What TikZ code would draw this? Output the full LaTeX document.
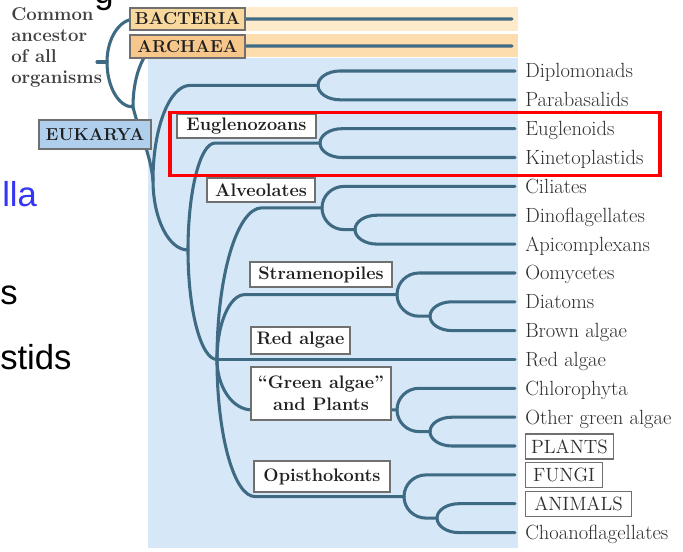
\documentclass[tikz,border=0pt]{standalone}
\usepackage{fontspec}
\newfontfamily\slidefont{Liberation Sans}
\usetikzlibrary{calc}
\definecolor{treeline}{HTML}{3E6B83}
\definecolor{panel}{HTML}{D6E8F7}
\definecolor{bandA}{HTML}{FEEBCB}
\definecolor{bandB}{HTML}{FDDCAE}
\definecolor{bactbox}{HTML}{F9D89E}
\definecolor{archbox}{HTML}{F6C68A}
\definecolor{eukbox}{HTML}{B0CFEC}
\definecolor{boxborder}{HTML}{707070}
\definecolor{labgray}{HTML}{2E2E2E}
\definecolor{slideblue}{HTML}{3535F5}
\tikzset{
  branch/.style={to path={.. controls ($(\tikztostart)!0.552!(\tikztostart|-\tikztotarget)$) and ($(\tikztotarget)!0.552!(\tikztostart|-\tikztotarget)$) .. (\tikztotarget) \tikztonodes}},
  tline/.style={draw=treeline, line width=2.3pt, line cap=round},
  leaf/.style={inner sep=0pt, anchor=base west, text=labgray, font=\fontsize{15.4}{18}\selectfont},
  leafbox/.style={draw=boxborder, line width=0.8pt, fill=white, inner sep=0pt, anchor=west, minimum height=18.75pt, text=labgray, font=\fontsize{14.4}{16}\selectfont},
  cladebox/.style={draw=boxborder, line width=0.8pt, fill=white, inner sep=0pt, text=black!88, font=\fontsize{13.6}{16.5}\selectfont\bfseries},
  domainbox/.style={draw=boxborder, line width=0.8pt, inner sep=0pt, text=black!88, font=\fontsize{13}{14}\selectfont\bfseries},
  slidetxt/.style={inner sep=0pt, anchor=base west, font=\slidefont\fontsize{26}{30}\selectfont}
}
\begin{document}
\begin{tikzpicture}[x=0.75pt,y=-0.75pt]
\useasboundingbox (0,0) rectangle (683,552);
\fill[white] (0,0) rectangle (683,552);
% background panels
\fill[panel] (148,58) rectangle (518,548);
\fill[bandA] (245,7) rectangle (518,31);
\fill[bandB] (245,34) rectangle (518,57);

% coordinates
\coordinate (tick) at (97,62);
\coordinate (root) at (107,62);
\coordinate (bactS) at (135,19);
\coordinate (bactE) at (512,19);
\coordinate (AE) at (133,107);
\coordinate (archS) at (160,46);
\coordinate (archE) at (512,46);
\coordinate (E) at (153,180);
\coordinate (B) at (188,250);
\coordinate (C) at (217,359.5);
\coordinate (dipS) at (190,85.4);
\coordinate (DP) at (318,85.4);
\coordinate (eugS) at (215,143.1);
\coordinate (EG) at (320,143.1);
\coordinate (alvS) at (262,207.8);
\coordinate (AL) at (322,207.8);
\coordinate (DAs) at (344,229.6);
\coordinate (DA) at (355,229.6);
\coordinate (strS) at (245,294.6);
\coordinate (ST) at (397,294.6);
\coordinate (DBs) at (419,316.2);
\coordinate (DB) at (430,316.2);
\coordinate (grS) at (252,409.9);
\coordinate (GR) at (397,409.9);
\coordinate (OGs) at (419,431.6);
\coordinate (OG) at (430,431.6);
\coordinate (opS) at (255,496.6);
\coordinate (OP) at (404,496.6);
\coordinate (ACs) at (426,518.1);
\coordinate (AC) at (437,518.1);
% leaf starts and ends
\coordinate (s0) at (340,71);     \coordinate (e0) at (515,71);
\coordinate (s1) at (340,99.8);   \coordinate (e1) at (515,99.8);
\coordinate (s2) at (342,128.7);  \coordinate (e2) at (515,128.7);
\coordinate (s3) at (342,157.5);  \coordinate (e3) at (515,157.5);
\coordinate (s4) at (344,186.4);  \coordinate (e4) at (515,186.4);
\coordinate (s5) at (377,215.2);  \coordinate (e5) at (515,215.2);
\coordinate (s6) at (377,244.1);  \coordinate (e6) at (515,244.1);
\coordinate (s7) at (419,273);    \coordinate (e7) at (515,273);
\coordinate (s8) at (452,301.8);  \coordinate (e8) at (515,301.8);
\coordinate (s9) at (452,330.6);  \coordinate (e9) at (515,330.6);
\coordinate (e10) at (515,359.5);
\coordinate (s11) at (419,388.3); \coordinate (e11) at (515,388.3);
\coordinate (s12) at (452,417.2); \coordinate (e12) at (515,417.2);
\coordinate (s13) at (452,446);   \coordinate (e13) at (515,446);
\coordinate (s14) at (426,474.9); \coordinate (e14) at (515,474.9);
\coordinate (s15) at (459,503.7); \coordinate (e15) at (515,503.7);
\coordinate (s16) at (459,532.6); \coordinate (e16) at (515,532.6);

% tree lines
\draw[tline] (tick) -- (root);
\draw[tline] (root) to[branch] (bactS) -- (bactE);
\draw[tline] (root) to[branch] (AE);
\draw[tline] (AE) to[branch] (archS) -- (archE);
\draw[tline] (AE) .. controls (139,132) and (150,152) .. (E);
\draw[tline] (E) to[branch] (dipS) -- (DP);
\draw[tline] (E) to[branch] (B);
\draw[tline] (B) to[branch] (eugS) -- (EG);
\draw[tline] (B) to[branch] (C);
\draw[tline] (DP) to[branch] (s0) -- (e0);
\draw[tline] (DP) to[branch] (s1) -- (e1);
\draw[tline] (EG) to[branch] (s2) -- (e2);
\draw[tline] (EG) to[branch] (s3) -- (e3);
\draw[tline] (C) to[branch] (alvS) -- (AL);
\draw[tline] (AL) to[branch] (s4) -- (e4);
\draw[tline] (AL) to[branch] (DAs) -- (DA);
\draw[tline] (DA) to[branch] (s5) -- (e5);
\draw[tline] (DA) to[branch] (s6) -- (e6);
\draw[tline] (C) to[branch] (strS) -- (ST);
\draw[tline] (ST) to[branch] (s7) -- (e7);
\draw[tline] (ST) to[branch] (DBs) -- (DB);
\draw[tline] (DB) to[branch] (s8) -- (e8);
\draw[tline] (DB) to[branch] (s9) -- (e9);
\draw[tline] (C) -- (e10);
\draw[tline] (C) to[branch] (grS) -- (GR);
\draw[tline] (GR) to[branch] (s11) -- (e11);
\draw[tline] (GR) to[branch] (OGs) -- (OG);
\draw[tline] (OG) to[branch] (s12) -- (e12);
\draw[tline] (OG) to[branch] (s13) -- (e13);
\draw[tline] (C) to[branch] (opS) -- (OP);
\draw[tline] (OP) to[branch] (s14) -- (e14);
\draw[tline] (OP) to[branch] (ACs) -- (AC);
\draw[tline] (AC) to[branch] (s15) -- (e15);
\draw[tline] (AC) to[branch] (s16) -- (e16);

% domain boxes
\node[domainbox, fill=bactbox, minimum width=86.25pt, minimum height=16.5pt] (bact) at (187.5,19) {BACTERIA};
\node[domainbox, fill=archbox, minimum width=86.25pt, minimum height=17.25pt] (arch) at (187.5,46.5) {ARCHAEA};
\node[domainbox, fill=eukbox, minimum width=84pt, minimum height=21.75pt] (euk) at (95,134.5) {EUKARYA};
\node[anchor=north west, inner sep=0pt, align=left, text=black!75, font=\fontsize{13.9}{15.9}\selectfont\bfseries] (common) at (11,7) {Common\\ancestor\\of all\\organisms};

% clade boxes
\node[cladebox, minimum width=104.25pt, minimum height=18pt] (eugbox) at (246.5,126) {Euglenozoans};
\node[cladebox, minimum width=81pt, minimum height=18pt] (alvbox) at (261,190) {Alveolates};
\node[cladebox, minimum width=106.5pt, minimum height=18.75pt] (strbox) at (321,274.5) {Stramenopiles};
\node[cladebox, minimum width=74.25pt, minimum height=20.25pt] (redbox) at (300.5,340.5) {Red algae};
\node[cladebox, minimum width=105pt, minimum height=39.75pt, align=center] (grnbox) at (321,393.5) {“Green algae”\\and Plants};
\node[cladebox, minimum width=102pt, minimum height=23.25pt] (opibox) at (322,476.5) {Opisthokonts};

% leaf labels
\node[leaf] (l0) at (525,78) {Diplomonads};
\node[leaf] (l1) at (525,106.8) {Parabasalids};
\node[leaf] (l2) at (525,135.7) {Euglenoids};
\node[leaf] (l3) at (525,164.5) {Kinetoplastids};
\node[leaf] (l4) at (525,193.4) {Ciliates};
\node[leaf] (l5) at (525,222.2) {Dinoflagellates};
\node[leaf] (l6) at (525,251.1) {Apicomplexans};
\node[leaf] (l7) at (525,280) {Oomycetes};
\node[leaf] (l8) at (525,308.8) {Diatoms};
\node[leaf] (l9) at (525,337.6) {Brown algae};
\node[leaf] (l10) at (525,366.5) {Red algae};
\node[leaf] (l11) at (525,395.3) {Chlorophyta};
\node[leaf] (l12) at (525,424.2) {Other green algae};
\node[leafbox, minimum width=66pt] (l13) at (525,446.5) {PLANTS};
\node[leafbox, minimum width=57.75pt] (l14) at (525,475.3) {FUNGI};
\node[leafbox, minimum width=79.5pt] (l15) at (525,504.2) {ANIMALS};
\node[leaf] (l16) at (525,539.6) {Choanoflagellates};

% highlight
\draw[red, line width=2.3pt] (170,112.5) rectangle (660,175.5);

% slide text fragments
\node[slidetxt, text=black] (sg) at (94,4) {g};
\node[slidetxt, text=slideblue] (slla) at (2,207) {lla};
\node[slidetxt, text=black] (ss) at (0,305) {s};
\node[slidetxt, text=black] (sstids) at (0,370) {stids};
\end{tikzpicture}
\end{document}
